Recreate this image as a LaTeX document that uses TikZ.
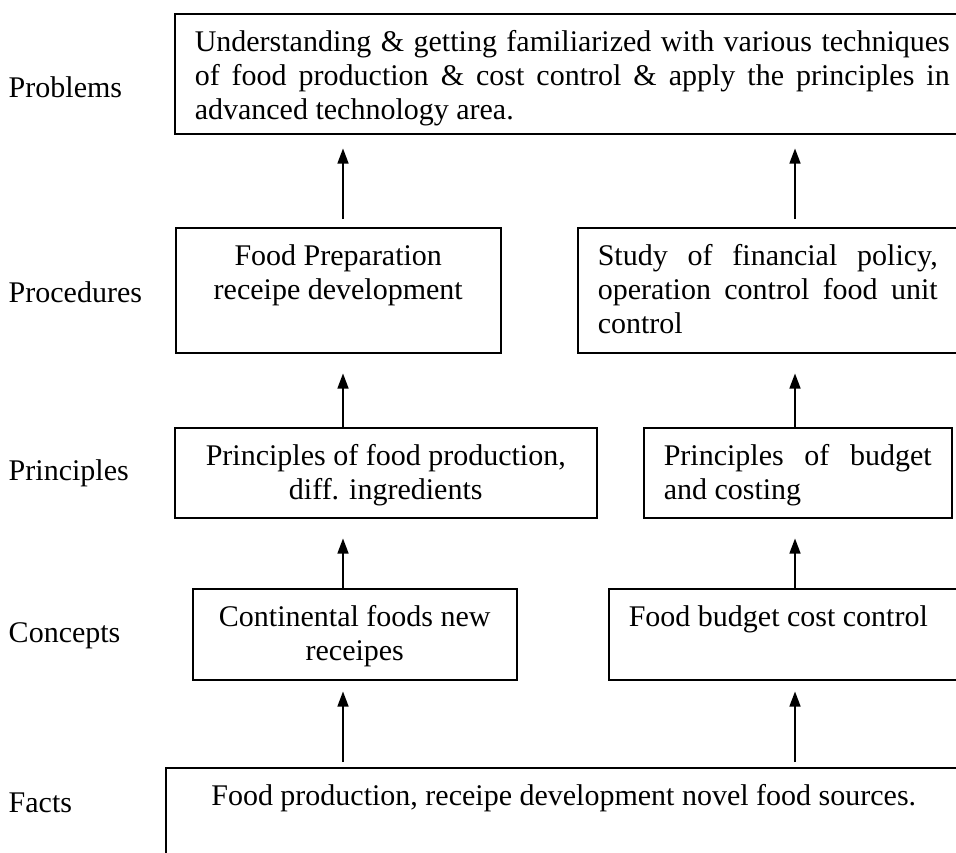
\documentclass[tikz,border=0pt]{standalone}
\usepackage{fontspec}
\setmainfont{Liberation Serif}
\usetikzlibrary{arrows.meta}
\newcommand{\stagetext}[3]{\parbox[b][#1][t]{#2}{\rule{0pt}{38pt}#3}}

\begin{document}
\begin{tikzpicture}[x=1pt, y=-1pt, line width=1.5pt,
  font=\fontsize{30}{34}\selectfont,
  stage/.style={draw, anchor=north west, inner xsep=20pt, inner ysep=0pt},
  lvl/.style={anchor=base west, inner sep=0pt},
  up/.style={-{Triangle[length=15pt,width=11pt]}, line width=1.4pt}]
\useasboundingbox (0,0) rectangle (956,852);
\clip (0,0) rectangle (956,852);
\coordinate (colL) at (343,0);
\coordinate (colR) at (795,0);

\node[lvl] (LPROB) at (8,97) {Problems};
\node[lvl] (LPROC) at (8,302) {Procedures};
\node[lvl] (LPRIN) at (8,480) {Principles};
\node[lvl] (LCON) at (8,642) {Concepts};
\node[lvl] (LFACT) at (8,812) {Facts};

\node[stage] (PROB) at (174,13) {\stagetext{120pt}{755pt}{Understanding \& getting familiarized with various techniques\linebreak of food production \& cost control \& apply the principles in\linebreak advanced technology area.}};
\node[stage] (PROCL) at (175,227) {\stagetext{125pt}{285pt}{\centering Food Preparation\\ receipe development}};
\node[stage] (PROCR) at (577,227) {\stagetext{125pt}{340pt}{Study of financial policy,\linebreak operation control food unit\linebreak control}};
\node[stage] (PRINL) at (174,427) {\stagetext{90pt}{382pt}{\centering Principles of food production,\\ diff. ingredients}};
\node[stage] (PRINR) at (643,427) {\stagetext{90pt}{268pt}{Principles of budget\linebreak and costing}};
\node[stage] (CONL) at (192,588) {\stagetext{91pt}{284pt}{\centering Continental foods new\\ receipes}};
\node[stage] (CONR) at (608,588) {\stagetext{91pt}{314pt}{Food budget cost control}};
\node[stage] (FACT) at (165,767) {\stagetext{110pt}{756pt}{\centering Food production, receipe development novel food sources.}};

\draw[up, shorten <=8pt, shorten >=14pt] (PROCL.north -| colL) -- (PROB.south -| colL);
\draw[up, shorten <=8pt, shorten >=14pt] (PROCR.north -| colR) -- (PROB.south -| colR);
\draw[up, shorten >=20pt] (PRINL.north -| colL) -- (PROCL.south -| colL);
\draw[up, shorten >=20pt] (PRINR.north -| colR) -- (PROCR.south -| colR);
\draw[up, shorten >=20pt] (CONL.north -| colL) -- (PRINL.south -| colL);
\draw[up, shorten >=20pt] (CONR.north -| colR) -- (PRINR.south -| colR);
\draw[up, shorten <=5pt, shorten >=11pt] (FACT.north -| colL) -- (CONL.south -| colL);
\draw[up, shorten <=5pt, shorten >=11pt] (FACT.north -| colR) -- (CONR.south -| colR);
\end{tikzpicture}
\end{document}
